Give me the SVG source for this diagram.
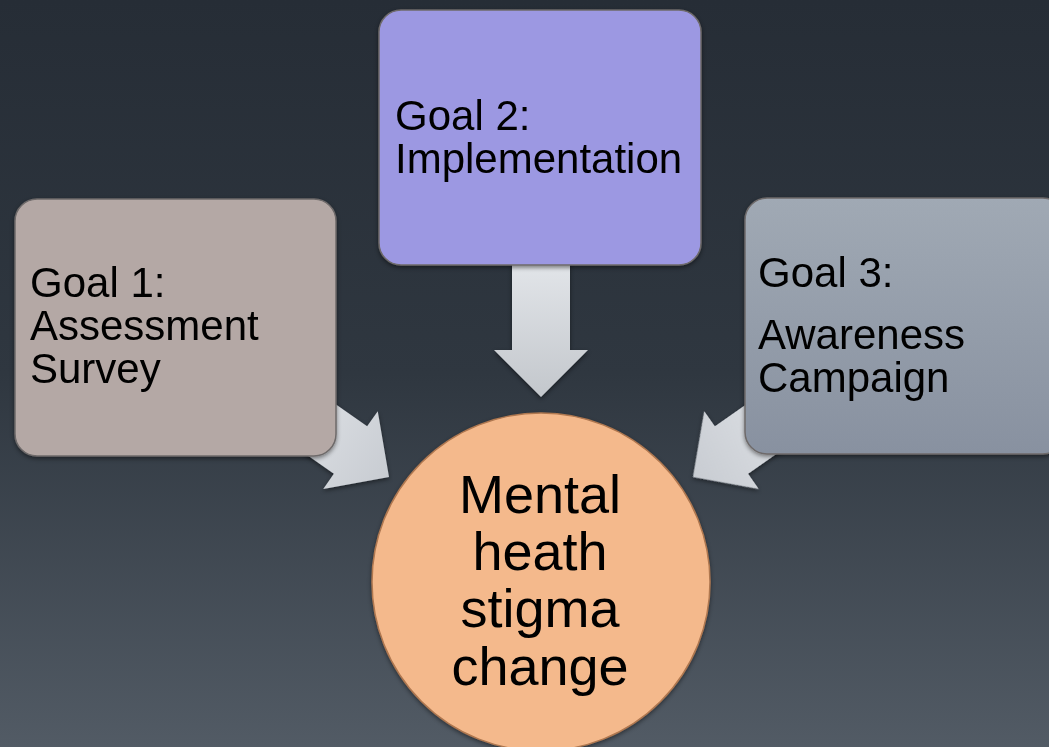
<svg xmlns="http://www.w3.org/2000/svg" width="1049" height="747" viewBox="0 0 1049 747">
  <defs>
    <linearGradient id="bg" x1="0" y1="0" x2="0" y2="1">
      <stop offset="0" stop-color="#262d36"/>
      <stop offset="0.5" stop-color="#2f3740"/>
      <stop offset="1" stop-color="#525b65"/>
    </linearGradient>
    <linearGradient id="arrowFill" x1="0" y1="0" x2="1" y2="0">
      <stop offset="0" stop-color="#e0e3e7"/>
      <stop offset="1" stop-color="#c8ccd2"/>
    </linearGradient>
    <linearGradient id="arrowDown" x1="0" y1="0" x2="0" y2="1">
      <stop offset="0" stop-color="#e2e5e9"/>
      <stop offset="1" stop-color="#c3c7cc"/>
    </linearGradient>
    <linearGradient id="g3fill" x1="0" y1="0" x2="0" y2="1">
      <stop offset="0" stop-color="#a0a9b4"/>
      <stop offset="1" stop-color="#8891a0"/>
    </linearGradient>
    <filter id="shadow" x="-10%" y="-10%" width="120%" height="120%">
      <feDropShadow dx="0" dy="2" stdDeviation="2" flood-color="#000" flood-opacity="0.45"/>
    </filter>
    <!-- block arrow, tip at origin pointing along +x -->
    <path id="blockArrow" d="M-132,-29 L-47,-29 L-47,-47.5 L0,0 L-47,47.5 L-47,29 L-132,29 Z"/>
  </defs>
  <style>
    .label { font-family: "Liberation Sans", Arial, sans-serif; font-size: 42px; fill: #000; }
    .center { font-family: "Liberation Sans", Arial, sans-serif; font-size: 54px; fill: #000; text-anchor: middle; }
    .box { stroke: #6e6a6a; stroke-width: 1.5; filter: url(#shadow); }
  </style>

  <rect width="1049" height="747" fill="url(#bg)"/>

  <g id="connectors" filter="url(#shadow)">
    <use href="#blockArrow" transform="translate(389,477) rotate(35)" fill="url(#arrowFill)"/>
    <use href="#blockArrow" transform="translate(693,477) rotate(145)" fill="url(#arrowFill)"/>
    <path d="M512,262 L570,262 L570,350 L588,350 L541,397 L494,350 L512,350 Z" fill="url(#arrowDown)"/>
  </g>

  <g id="goal1">
    <rect class="box" x="15" y="199" width="321" height="257" rx="22" fill="#b4a8a5"/>
    <text class="label" x="30" y="297">Goal 1:</text>
    <text class="label" x="30" y="340">Assessment</text>
    <text class="label" x="30" y="383">Survey</text>
  </g>

  <g id="goal2">
    <rect class="box" x="379" y="10" width="322" height="255" rx="22" fill="#9c98e2" stroke="#7a76b8"/>
    <text class="label" x="395" y="130">Goal 2:</text>
    <text class="label" x="395" y="173">Implementation</text>
  </g>

  <g id="goal3">
    <rect class="box" x="745" y="198" width="320" height="256" rx="22" fill="url(#g3fill)"/>
    <text class="label" x="758" y="287">Goal 3:</text>
    <text class="label" x="758" y="349">Awareness</text>
    <text class="label" x="758" y="392">Campaign</text>
  </g>

  <g id="stigma">
    <circle cx="541" cy="582" r="169" fill="#f4b98c" stroke="#b07850" stroke-width="1.5" filter="url(#shadow)"/>
    <text class="center" x="540" y="513">Mental</text>
    <text class="center" x="540" y="570">heath</text>
    <text class="center" x="540" y="627">stigma</text>
    <text class="center" x="540" y="685">change</text>
  </g>
</svg>
